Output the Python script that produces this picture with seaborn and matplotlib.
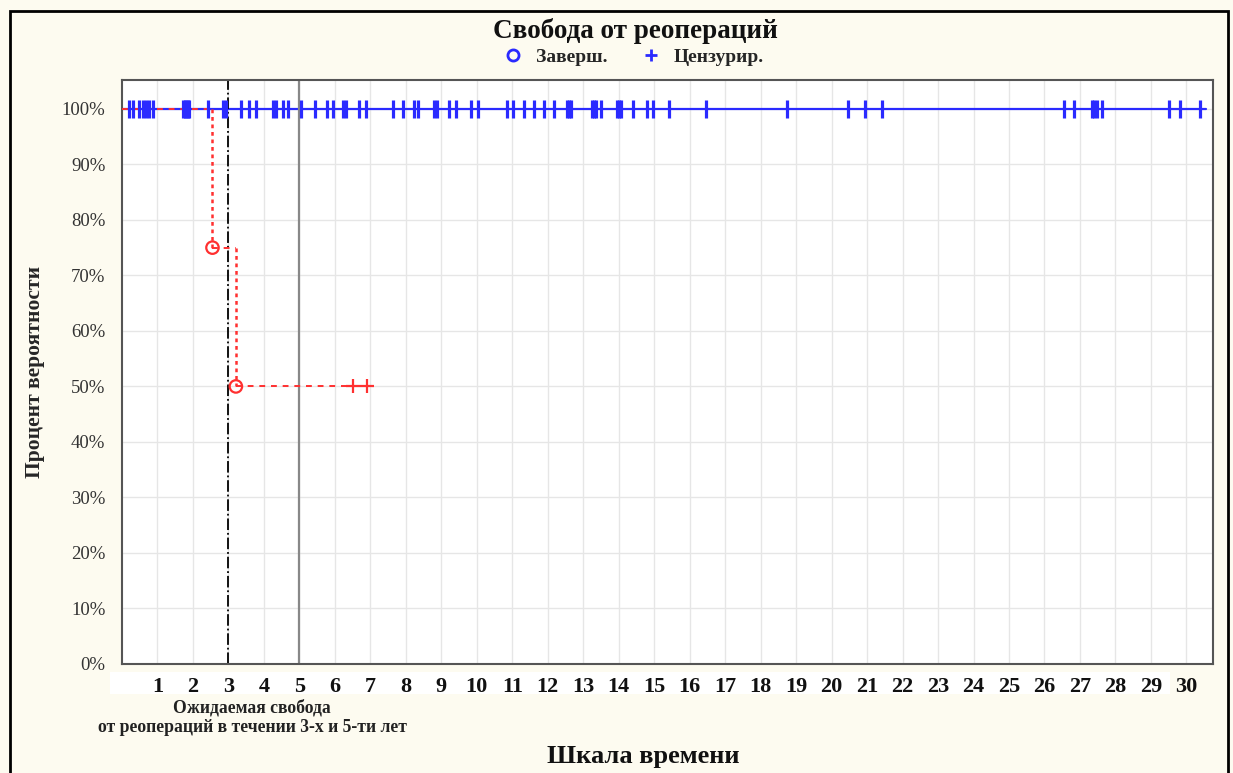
import numpy as np
import pandas as pd
import seaborn as sns
import matplotlib.pyplot as plt
from matplotlib.lines import Line2D
from matplotlib.patches import Rectangle

# blue group: no events, only censored observations (years)
blue_censored = [0.21, 0.30, 0.49, 0.58, 0.68, 0.77, 0.86, 1.73, 1.77, 1.81, 1.86, 1.90,
                 2.41, 2.84, 2.93, 3.35, 3.59, 3.77, 4.25, 4.34, 4.53, 4.67, 5.04, 5.45,
                 5.79, 5.94, 6.22, 6.31, 6.68, 6.87, 7.63, 7.91, 8.23, 8.33, 8.80, 8.89,
                 9.22, 9.41, 9.83, 10.02, 10.86, 11.01, 11.33, 11.61, 11.89, 12.18, 12.55,
                 12.60, 12.65, 13.26, 13.30, 13.35, 13.49, 13.96, 14.01, 14.06, 14.39,
                 14.81, 14.98, 15.42, 16.45, 18.73, 20.47, 20.93, 21.43, 26.54, 26.83,
                 27.34, 27.40, 27.48, 27.63, 29.50, 29.81, 30.39]
blue_end = 30.54

# red group: events (step down) and censored times
red_event_t = [2.55, 3.21]
red_event_s = [75, 50]
red_censored = [6.50, 6.90]

x_ticks = list(range(1, 31))
y_ticks = list(range(0, 101, 10))

sns.set_theme(style="whitegrid")
plt.rcParams['font.family'] = ['Liberation Serif', 'DejaVu Serif']

fig = plt.figure(figsize=(12.33, 7.73), dpi=100, facecolor='#fdfbf0')
ax = fig.add_axes([122/1233, 1-664/773, (1213-122)/1233, (664-80)/773])
ax.set_facecolor('white')

blue = '#2a2aff'
# blue curve
blue_df = pd.DataFrame({'t': [0, blue_end], 's': [100, 100]})
sns.lineplot(data=blue_df, x='t', y='s', color=blue, lw=1.6, ax=ax)
sns.scatterplot(x=blue_censored, y=[100]*len(blue_censored), marker='|', s=170,
                color=blue, linewidth=2.3, ax=ax, zorder=4)

# red curve: horizontal dashed, vertical dotted
red = '#ff3030'
prev_t, prev_s = 0, 100
for t, s in zip(red_event_t, red_event_s):
    ax.plot([prev_t, t], [prev_s, prev_s], color=red, ls=(0, (3, 3)), lw=1.4, zorder=3)
    ax.plot([t, t], [prev_s, s], color=red, ls=(0, (1.5, 1.5)), lw=1.8, zorder=3)
    prev_t, prev_s = t, s
ax.plot([prev_t, red_censored[-1]], [prev_s, prev_s], color=red, ls=(0, (3, 3)), lw=1.4, zorder=3)
sns.scatterplot(x=red_event_t, y=red_event_s, marker='o', s=80, facecolor='none',
                edgecolor=red, linewidth=1.6, ax=ax, zorder=5)
sns.scatterplot(x=red_censored, y=[prev_s]*len(red_censored), marker='+', s=100,
                color=red, linewidth=1.6, ax=ax, zorder=5)

# reference lines at 3 and 5 years
ax.axvline(3, color='black', ls='-.', lw=1.3, zorder=2)
ax.axvline(5, color='#888888', ls='-', lw=1.6, zorder=2)

ax.set_xlim(0, 30.75)
ax.set_ylim(0, 105.2)
ax.set_xticks(x_ticks)
ax.set_xticklabels([str(v) for v in x_ticks], fontsize=16, fontweight='bold')
ax.set_yticks(y_ticks)
ax.set_yticklabels([f'{v}%' for v in y_ticks], fontsize=13.5, color='#333333')
ax.grid(True, color='#e6e6e6', lw=1)
ax.tick_params(axis='x', direction='in', length=4, pad=9, colors='black', labelcolor='#111111')
ax.tick_params(axis='y', length=0, pad=12)
for sp in ax.spines.values():
    sp.set_color('#555555')
    sp.set_linewidth(1.5)
ax.set_xlabel('')
ax.set_ylabel('Процент вероятности', fontsize=15.5, fontweight='bold', labelpad=12)

# white strip behind tick labels
fig.patches.append(Rectangle((110/1233, 1-694/773), (1170-110)/1233, 22/773,
                             transform=fig.transFigure, facecolor='white', edgecolor='none', zorder=-1))
# outer frame
fig.patches.append(Rectangle((10/1233, -0.01), (1228-10)/1233, 1-11/773+0.01,
                             transform=fig.transFigure, facecolor='none', edgecolor='black', lw=2))

fig.text(0.515, 1-31/773, 'Свобода от реопераций', ha='center', va='center',
         fontsize=19.5, fontweight='bold', color='#111111')
fig.text(0.522, 1-757/773, 'Шкала времени', ha='center', va='center',
         fontsize=19, fontweight='bold', color='#111111')
fig.text(252/1233, 1-708/773, 'Ожидаемая свобода', ha='center', va='center',
         fontsize=12.7, fontweight='bold', color='#222222')
fig.text(252/1233, 1-727/773, 'от реопераций в течении 3-х и 5-ти лет', ha='center', va='center',
         fontsize=12.7, fontweight='bold', color='#222222')

handles = [Line2D([], [], marker='o', ls='none', mfc='none', mec=blue, mew=2, ms=8),
           Line2D([], [], marker='+', ls='none', color=blue, mew=2, ms=9)]
fig.legend(handles, ['Заверш.', 'Цензурир.'], loc='center', bbox_to_anchor=(0.510, 1-57/773),
           ncol=2, frameon=False, prop={'weight': 'bold', 'size': 14}, handletextpad=0.2,
           columnspacing=1.2)

fig.savefig('out.png', dpi=100, facecolor=fig.get_facecolor())
